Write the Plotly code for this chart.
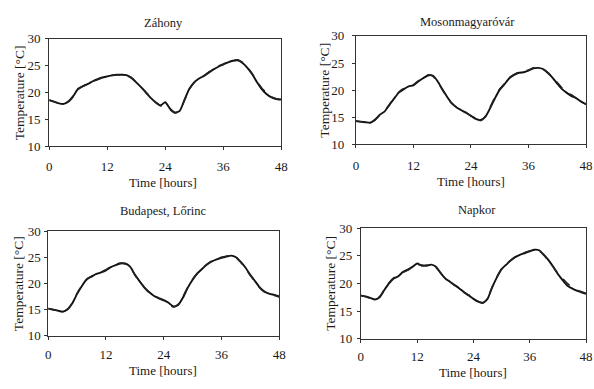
import plotly.graph_objects as go

hours = list(range(0, 49))

titles = ["Záhony", "Mosonmagyaróvár", "Budapest, Lőrinc", "Napkor"]

zahony_meas = [18.6, 18.3, 18.0, 17.9, 18.4, 19.4, 20.7, 21.2, 21.6, 22.1, 22.5, 22.8, 23.0, 23.2, 23.3, 23.3, 23.25,
               22.7, 21.9, 21.0, 20.0, 19.0, 18.2, 17.6, 18.2, 17.0, 16.3, 16.6, 18.7, 20.7, 21.9, 22.6, 23.1, 23.7,
               24.3, 24.8, 25.2, 25.6, 25.9, 26.0, 25.5, 24.6, 23.4, 21.9, 20.6, 19.7, 19.1, 18.8, 18.7]
zahony_model = [18.6, 18.3, 18.0, 17.9, 18.3, 19.3, 20.6, 21.2, 21.7, 22.1, 22.4, 22.8, 23.0, 23.2, 23.3, 23.3, 23.2,
                22.8, 21.9, 21.0, 20.1, 19.1, 18.2, 17.6, 17.0, 16.8, 16.2, 16.6, 18.6, 20.6, 21.9, 22.6, 23.1, 23.8,
                24.4, 24.9, 25.3, 25.7, 26.0, 26.1, 25.6, 24.7, 23.5, 22.0, 20.8, 19.9, 19.2, 18.8, 18.6]

moson_meas = [14.3, 14.2, 14.1, 14.0, 14.6, 15.5, 16.1, 17.3, 18.5, 19.6, 20.2, 20.7, 20.9, 21.6, 22.2, 22.7, 22.7,
              21.7, 20.2, 18.8, 17.6, 16.8, 16.3, 15.8, 15.3, 14.7, 14.5, 15.1, 16.7, 18.5, 20.1, 21.1, 22.2, 22.8,
              23.2, 23.3, 23.6, 24.0, 24.1, 23.9, 23.2, 22.3, 21.2, 20.2, 19.5, 18.9, 18.5, 17.9, 17.4]
moson_model = [14.3, 14.2, 14.1, 14.0, 14.5, 15.4, 16.2, 17.4, 18.6, 19.7, 20.3, 20.6, 21.0, 21.7, 22.3, 22.8, 22.6,
               21.6, 20.1, 18.7, 17.5, 16.9, 16.4, 15.9, 15.2, 14.6, 14.4, 15.2, 16.9, 18.7, 20.2, 21.2, 22.3, 22.9,
               23.3, 23.4, 23.7, 24.1, 24.2, 23.9, 23.3, 22.4, 21.4, 20.4, 19.6, 19.1, 18.5, 18.0, 17.4]

budapest_meas = [15.2, 15.0, 14.8, 14.6, 15.0, 16.2, 18.0, 19.5, 20.8, 21.3, 21.8, 22.1, 22.5, 23.1, 23.5, 23.8, 23.8,
                 23.2, 21.7, 20.4, 19.2, 18.3, 17.6, 17.2, 16.8, 16.3, 15.6, 15.9, 17.3, 19.2, 20.7, 21.9, 22.8, 23.6,
                 24.2, 24.6, 24.9, 25.1, 25.3, 25.0, 24.1, 23.0, 21.6, 20.4, 19.2, 18.4, 18.0, 17.8, 17.5]
budapest_model = [15.2, 15.0, 14.8, 14.6, 15.1, 16.3, 18.1, 19.6, 20.7, 21.4, 21.8, 22.2, 22.6, 23.2, 23.6, 23.9, 23.7,
                  23.1, 21.6, 20.3, 19.2, 18.2, 17.7, 17.1, 16.7, 16.2, 15.5, 16.0, 17.5, 19.3, 20.8, 22.0, 22.9, 23.7,
                  24.3, 24.7, 25.0, 25.2, 25.4, 25.0, 24.0, 22.9, 21.5, 20.3, 19.1, 18.3, 17.9, 17.7, 17.4]

napkor_meas = [17.8, 17.65, 17.4, 17.1, 17.5, 18.8, 20.0, 20.9, 21.3, 22.1, 22.5, 23.0, 23.6, 23.2, 23.2, 23.4, 23.0,
               21.9, 20.9, 20.3, 19.7, 19.1, 18.4, 17.8, 17.2, 16.7, 16.5, 17.2, 19.3, 21.1, 22.6, 23.4, 24.2, 24.8,
               25.2, 25.5, 25.8, 26.1, 26.0, 25.2, 24.2, 23.0, 21.7, 20.6, 19.6, 19.1, 18.7, 18.4, 18.1]
napkor_model = [17.8, 17.6, 17.3, 17.1, 17.6, 18.9, 20.1, 21.0, 21.4, 22.0, 22.4, 23.0, 23.4, 23.3, 23.3, 23.3, 22.9,
                21.9, 21.0, 20.3, 19.6, 19.0, 18.4, 17.9, 17.3, 16.8, 16.4, 17.3, 19.4, 21.2, 22.6, 23.5, 24.2, 24.9,
                25.3, 25.6, 25.9, 26.0, 25.9, 25.1, 24.1, 23.0, 21.8, 20.9, 20.0, 19.3, 18.8, 18.5, 18.2]

measured = [zahony_meas, moson_meas, budapest_meas, napkor_meas]
modelled = [zahony_model, moson_model, budapest_model, napkor_model]

x_ticks = [0, 12, 24, 36, 48]
y_ticks = [10, 15, 20, 25, 30]

# layout: (x_domain, y_domain) for each panel
domains = [
    ([47 / 594, 283 / 594], [1 - 145 / 389, 1 - 33 / 389]),
    ([359 / 594, 593 / 594], [1 - 143 / 389, 1 - 30 / 389]),
    ([46 / 594, 281 / 594], [1 - 342 / 389, 1 - 233 / 389]),
    ([364 / 594, 593 / 594], [1 - 345 / 389, 1 - 230 / 389]),
]
title_pos = [(163, 17), (472, 16), (163, 212), (482, 211)]
xtitle_pos = [(163, 183), (476, 182), (163, 378), (478, 380)]
ytitle_x = [17, 327, 16, 333]
x_standoff = [5, 6, 4, 3]
y_standoff = [2, 5, 1, 2]

FONT = "Liberation Serif"
TXT = "#1a1a1a"

fig = go.Figure()
annotations = []
layout = {}
for i in range(4):
    sfx = "" if i == 0 else str(i + 1)
    xa, ya = "x" + sfx, "y" + sfx
    fig.add_trace(go.Scatter(x=hours, y=measured[i], mode="lines", xaxis=xa, yaxis=ya,
                             line=dict(color="#111111", width=1.9, shape="spline", smoothing=0.6),
                             showlegend=False))
    fig.add_trace(go.Scatter(x=hours, y=modelled[i], mode="lines", xaxis=xa, yaxis=ya,
                             line=dict(color="#222222", width=1.6, dash="dash", shape="spline", smoothing=0.6),
                             showlegend=False))
    xd, yd = domains[i]
    layout["xaxis" + sfx] = dict(domain=xd, anchor=ya, range=[0, 48], tickvals=x_ticks,
                                 ticks="outside", ticklen=3, tickcolor="#333", showgrid=False,
                                 zeroline=False, showline=True, linecolor="#333", linewidth=1,
                                 mirror=True, tickfont=dict(family=FONT, size=13, color=TXT),
                                 ticklabeloverflow="allow", ticklabelstandoff=x_standoff[i])
    layout["yaxis" + sfx] = dict(domain=yd, anchor=xa, range=[10, 30], tickvals=y_ticks,
                                 ticks="outside", ticklen=3, tickcolor="#333", showgrid=False,
                                 zeroline=False, showline=True, linecolor="#333", linewidth=1,
                                 mirror=True, tickfont=dict(family=FONT, size=13, color=TXT),
                                 ticklabelstandoff=y_standoff[i])
    tx, ty = title_pos[i]
    annotations.append(dict(text=titles[i], x=tx / 594, y=1 - ty / 389, xref="paper", yref="paper",
                             showarrow=False, xanchor="center", yanchor="middle",
                             font=dict(family=FONT, size=12.5, color=TXT)))
    ax_, ay_ = xtitle_pos[i]
    annotations.append(dict(text="Time [hours]", x=ax_ / 594, y=1 - ay_ / 389, xref="paper", yref="paper",
                             showarrow=False, xanchor="center", yanchor="middle",
                             font=dict(family=FONT, size=13, color=TXT)))
    yc = (yd[0] + yd[1]) / 2
    annotations.append(dict(text="Temperature [°C]", x=ytitle_x[i] / 594, y=yc, xref="paper", yref="paper",
                             showarrow=False, xanchor="center", yanchor="middle", textangle=-90,
                             font=dict(family=FONT, size=13.5, color=TXT)))

fig.update_layout(width=594, height=389, margin=dict(l=0, r=0, t=0, b=0),
                  paper_bgcolor="white", plot_bgcolor="white",
                  annotations=annotations, **layout)

fig.write_html("out.html")
